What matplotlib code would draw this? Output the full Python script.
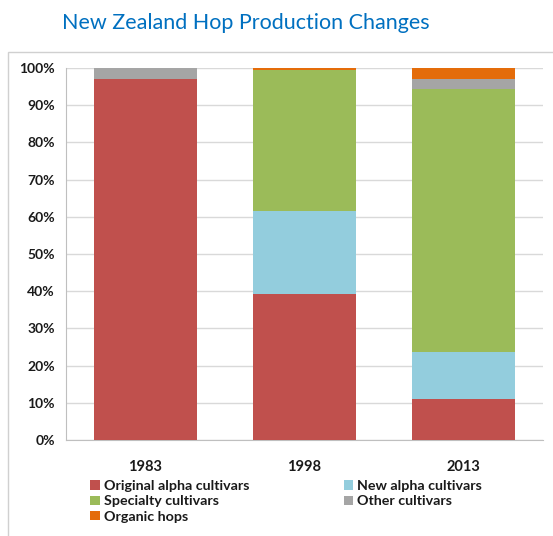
import matplotlib.pyplot as plt
from matplotlib.patches import Rectangle, Patch
from matplotlib.ticker import PercentFormatter
import numpy as np

years = ['1983', '1998', '2013']
series = ['Original alpha cultivars', 'New alpha cultivars', 'Specialty cultivars',
          'Other cultivars', 'Organic hops']
original_alpha = [97.0, 39.3, 11.0]
new_alpha = [0.0, 22.3, 12.7]
specialty = [0.0, 37.9, 70.8]
other = [3.0, 0.0, 2.5]
organic = [0.0, 0.5, 3.0]
colors = ['#C0504D', '#93CDDD', '#9BBB59', '#A5A5A5', '#E46C0A']

plt.rcParams['font.family'] = ['Lato', 'DejaVu Sans']

fig = plt.figure(figsize=(5.53, 5.36), dpi=100)
ax = fig.add_axes([0.119, 0.179, 0.863, 0.694])

# chart frame (only top and left edges show)
fig.patches.append(Rectangle((8 / 553, -0.1), 1.2, 1 - 52 / 536 + 0.1,
                             transform=fig.transFigure, fill=False,
                             edgecolor='#D0D0D0', linewidth=1.0))

x = np.arange(len(years))
bottom = np.zeros(len(years))
for name, vals, c in zip(series, [original_alpha, new_alpha, specialty, other, organic], colors):
    ax.bar(x, vals, width=0.65, bottom=bottom, color=c, label=name, zorder=3)
    bottom += np.array(vals)

ax.set_xlim(-0.5, 2.5)
ax.set_ylim(0, 100)
ax.set_yticks(range(0, 101, 10))
ax.yaxis.set_major_formatter(PercentFormatter(decimals=0))
ax.set_xticks(x)
ax.set_xticklabels(years)
ax.grid(axis='y', color='#D9D9D9', linewidth=1.0, zorder=0)
for s in ['top', 'right']:
    ax.spines[s].set_visible(False)
for s in ['left', 'bottom']:
    ax.spines[s].set_color('#BFBFBF')
ax.tick_params(axis='y', length=0, labelsize=10, pad=8)
ax.tick_params(axis='x', length=0, labelsize=10.5, pad=14)
for lab in ax.get_xticklabels() + ax.get_yticklabels():
    lab.set_fontweight('bold')
    lab.set_color('#1A1A1A')

fig.text(0.112, 0.958, 'New Zealand Hop Production Changes', fontsize=15.5,
         color='#0070C0', ha='left', va='center')

order = [0, 2, 4, 1, 3]
handles = [Patch(facecolor=colors[i], label=series[i]) for i in order]
leg = fig.legend(handles=handles, ncol=2, loc='upper left',
                 bbox_to_anchor=(0.14, 0.128), frameon=False,
                 handlelength=0.65, handleheight=0.65, handletextpad=0.3,
                 columnspacing=6.6, labelspacing=0.22,
                 prop={'weight': 'bold', 'size': 10.3})
for t in leg.get_texts():
    t.set_color('#1A1A1A')

fig.savefig('out.png', dpi=100)
